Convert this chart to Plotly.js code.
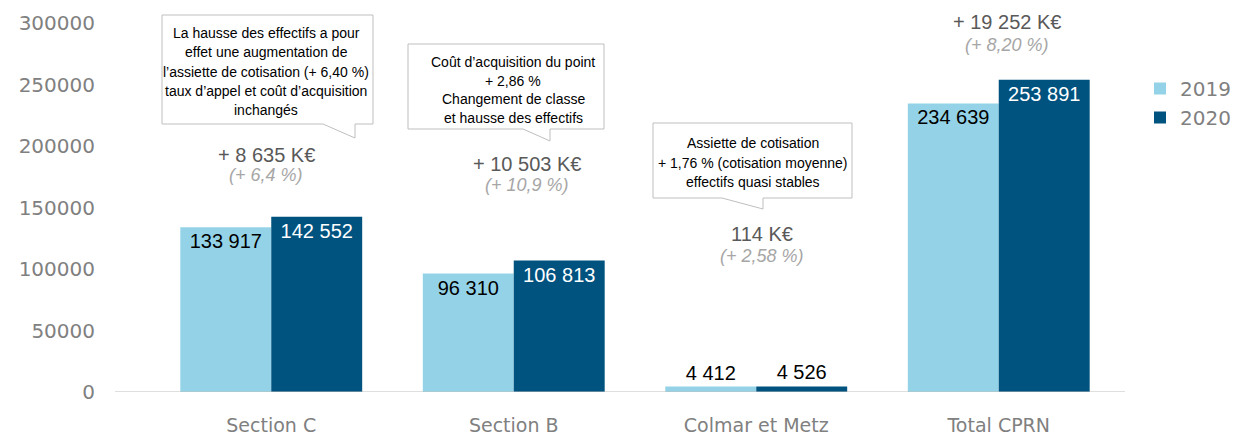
<!DOCTYPE html>
<html>
<head>
<meta charset="utf-8">
<script src="https://cdn.plot.ly/plotly-3.0.1.min.js"></script>
<style>
  body { margin: 0; background: #fff; }
  #chart { width: 1236px; height: 437px; }
</style>
</head>
<body>
<div id="chart"></div>
<script>
// data
const categories = ['Section C', 'Section B', 'Colmar et Metz', 'Total CPRN']
const values_2019 = [133917, 96310, 4412, 234639]
const values_2020 = [142552, 106813, 4526, 253891]
const growth_abs = ['+ 8 635 K€', '+ 10 503 K€', '114 K€', '+ 19 252 K€']
const growth_pct = ['(+ 6,4 %)', '(+ 10,9 %)', '(+ 2,58 %)', '(+ 8,20 %)']
const callout_texts = [
    ['La hausse des effectifs a pour', 'effet une augmentation de', 'l\u2019assiette de cotisation (+ 6,40 %)', 'taux d\u2019appel et coût d\u2019acquisition', 'inchangés'],
    ['Coût d\u2019acquisition du point', '+ 2,86 %', 'Changement de classe', 'et hausse des effectifs'],
    ['Assiette de cotisation', '+ 1,76 % (cotisation moyenne)', 'effectifs quasi stables']
]

// plot area in pixels
const L = 150, T = 23, W = 970, H = 369
const px = x => (x - L) / W
const py = y => (T + H - y) / H

const AXIS_FONT = '"DejaVu Sans", Lato, sans-serif'
const ARIAL = '"Liberation Sans", Arial, sans-serif'

const trace_2019 = {
    type: 'bar',
    name: '2019',
    x: categories,
    y: values_2019,
    marker: { color: '#94d3e7' },
    texttemplate: '%{y:,.0f}',
    textposition: 'auto',
    insidetextanchor: 'end',
    insidetextfont: { family: ARIAL, size: 20, color: '#000000' },
    outsidetextfont: { family: ARIAL, size: 20, color: '#000000' },
    cliponaxis: false,
    hoverinfo: 'skip'
}

const trace_2020 = {
    type: 'bar',
    name: '2020',
    x: categories,
    y: values_2020,
    marker: { color: '#00527f' },
    texttemplate: '%{y:,.0f}',
    textposition: 'auto',
    insidetextanchor: 'end',
    insidetextfont: { family: ARIAL, size: 20, color: '#ffffff' },
    outsidetextfont: { family: ARIAL, size: 20, color: '#000000' },
    cliponaxis: false,
    hoverinfo: 'skip'
}

// callout boxes (pixel coords): box left, right, top, bottom, tail base left, tail tip x, tip y
const boxes = [
    { l: 162, r: 373, t: 15, b: 124, bl: 323, tx: 355, ty: 138, cx: 266, y0: 33, dy: 19.3 },
    { l: 408, r: 604, t: 44, b: 129, bl: 523, tx: 550, ty: 141, cx: 513, y0: 62, dy: 18.5 },
    { l: 653, r: 852, t: 123, b: 198, bl: 722, tx: 763, ty: 209, cx: 753, y0: 143, dy: 19.5 }
]
const growth_pos = [
    { x: 266, y1: 155, y2: 175 },
    { x: 527, y1: 164, y2: 185 },
    { x: 762, y1: 234, y2: 256 },
    { x: 1007, y1: 22, y2: 45 }
]

const shapes = [{
    type: 'line', xref: 'paper', yref: 'y',
    x0: px(115), x1: px(1125), y0: 0, y1: 0,
    line: { color: '#bfbfbf', width: 1 }
}]

const annotations = []

boxes.forEach((b, i) => {
    const pts = [[b.l, b.t], [b.r, b.t], [b.r, b.b], [b.tx, b.b], [b.tx, b.ty], [b.bl, b.b], [b.l, b.b]]
    const path = 'M' + pts.map(p => px(p[0]) + ',' + py(p[1])).join(' L') + ' Z'
    shapes.push({
        type: 'path', xref: 'paper', yref: 'paper', path: path,
        fillcolor: '#ffffff', line: { color: '#bfbfbf', width: 1 }, layer: 'above'
    })
    callout_texts[i].forEach((line, j) => {
        annotations.push({
            xref: 'paper', yref: 'paper', x: px(b.cx), y: py(b.y0 + j * b.dy),
            xanchor: 'center', yanchor: 'middle', showarrow: false,
            text: line, font: { family: ARIAL, size: 14, color: '#000000' }
        })
    })
})

growth_pos.forEach((g, i) => {
    annotations.push({
        xref: 'paper', yref: 'paper', x: px(g.x), y: py(g.y1),
        xanchor: 'center', yanchor: 'middle', showarrow: false,
        text: growth_abs[i], font: { family: ARIAL, size: 20, color: '#595959' }
    })
    annotations.push({
        xref: 'paper', yref: 'paper', x: px(g.x), y: py(g.y2),
        xanchor: 'center', yanchor: 'middle', showarrow: false,
        text: '<i>' + growth_pct[i] + '</i>', font: { family: ARIAL, size: 18, color: '#a6a6a6' }
    })
})

const layout = {
    width: 1236,
    height: 437,
    margin: { l: L, r: 1236 - L - W, t: T, b: 437 - T - H, pad: 0, autoexpand: false },
    paper_bgcolor: '#ffffff',
    plot_bgcolor: '#ffffff',
    separators: ', ',
    barmode: 'group',
    bargap: 0.25,
    bargroupgap: 0,
    hovermode: false,
    xaxis: {
        type: 'category',
        showgrid: false,
        zeroline: false,
        showline: false,
        ticks: 'outside',
        ticklen: 16,
        tickcolor: 'rgba(0,0,0,0)',
        tickfont: { family: AXIS_FONT, size: 19, color: '#808080' }
    },
    yaxis: {
        range: [0, 300000],
        tickvals: [0, 50000, 100000, 150000, 200000, 250000, 300000],
        tickformat: 'd',
        showgrid: false,
        zeroline: false,
        showline: false,
        ticks: 'outside',
        ticklen: 50,
        tickcolor: 'rgba(0,0,0,0)',
        tickfont: { family: AXIS_FONT, size: 20, color: '#808080' }
    },
    legend: {
        xref: 'container',
        yref: 'container',
        x: 1140 / 1236,
        y: 1 - 69 / 437,
        xanchor: 'left',
        yanchor: 'top',
        font: { family: AXIS_FONT, size: 20, color: '#808080' },
        bgcolor: 'rgba(0,0,0,0)'
    },
    shapes: shapes,
    annotations: annotations
}

Plotly.newPlot('chart', [trace_2019, trace_2020], layout, { displayModeBar: false, staticPlot: true })
</script>
</body>
</html>
